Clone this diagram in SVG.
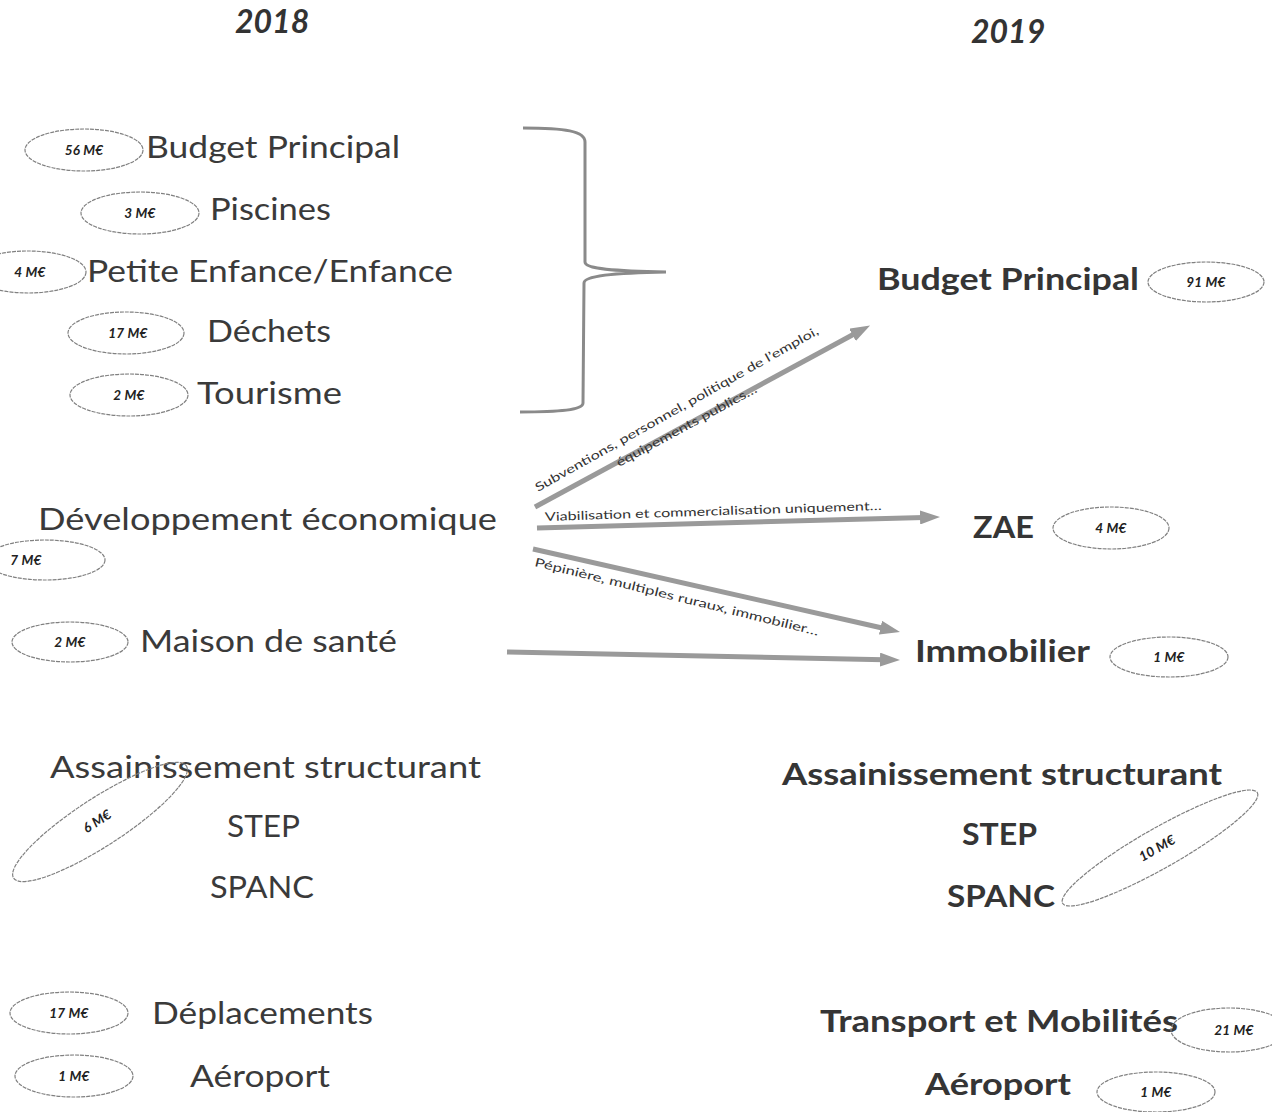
<svg xmlns="http://www.w3.org/2000/svg" width="1272" height="1112" viewBox="0 0 1272 1112">
<style>
.hdr{font-family:Lato,"Liberation Sans",sans-serif;font-weight:700;font-style:italic;font-size:32px;fill:#333}
.l{font-family:Lato,"Liberation Sans",sans-serif;font-size:30px;fill:#3a3a3a}
.r{font-family:Lato,"Liberation Sans",sans-serif;font-weight:700;font-size:30px;fill:#353535}
.v{font-family:Lato,"Liberation Sans",sans-serif;font-weight:700;font-style:italic;font-size:13.5px;fill:#222;text-anchor:middle;letter-spacing:0.2px}
.ov{fill:none;stroke:#808080;stroke-width:1.2;stroke-dasharray:4 1}
.ar{fill:none;stroke:#9a9a9a;stroke-width:5}
.al{font-family:Lato,"Liberation Sans",sans-serif;font-size:12px;fill:#333}
.br{fill:none;stroke:#8a8a8a;stroke-width:3}
</style>
<defs>
<marker id="ah" viewBox="0 0 20 14" refX="4" refY="7" markerWidth="20" markerHeight="14" orient="auto" markerUnits="userSpaceOnUse"><path d="M0,0 L20,7 L0,14 Z" fill="#9a9a9a"/></marker>
</defs>
<rect width="1272" height="1112" fill="#fff"/>
<g id="headers">
<text class="hdr" x="235" y="33">2018</text>
<text class="hdr" x="971" y="43">2019</text>
</g>
<g id="n-bp18"><ellipse class="ov" cx="84" cy="150" rx="59" ry="21"/><text class="v" x="84" y="155">56 M€</text><text class="l" x="146" y="158" textLength="254" lengthAdjust="spacingAndGlyphs">Budget Principal</text></g>
<g id="n-pisc"><ellipse class="ov" cx="140" cy="213" rx="59" ry="21"/><text class="v" x="140" y="218">3 M€</text><text class="l" x="210" y="220" textLength="121" lengthAdjust="spacingAndGlyphs">Piscines</text></g>
<g id="n-enf"><ellipse class="ov" cx="28" cy="272" rx="58" ry="21"/><text class="v" x="30" y="277">4 M€</text><text class="l" x="87" y="282" textLength="366" lengthAdjust="spacingAndGlyphs">Petite Enfance/Enfance</text></g>
<g id="n-dech"><ellipse class="ov" cx="126" cy="333" rx="58" ry="21"/><text class="v" x="128" y="338">17 M€</text><text class="l" x="207" y="342" textLength="124" lengthAdjust="spacingAndGlyphs">Déchets</text></g>
<g id="n-tour"><ellipse class="ov" cx="129" cy="395" rx="59" ry="21"/><text class="v" x="129" y="400">2 M€</text><text class="l" x="197" y="404" textLength="145" lengthAdjust="spacingAndGlyphs">Tourisme</text></g>
<g id="brace"><path class="br" d="M523,128 C565,128 585,131 585,142 L585,262 C585,269 612,271 666,272 C612,273 584,276 584,283 L583,403 C583,410 560,412 520,412"/></g>
<g id="n-dev"><text class="l" x="38" y="530" textLength="459" lengthAdjust="spacingAndGlyphs" style="font-size:31px">Développement économique</text><ellipse class="ov" cx="45" cy="560" rx="60" ry="20"/><text class="v" x="26" y="565">7 M€</text></g>
<g id="n-mais"><ellipse class="ov" cx="70" cy="642" rx="58" ry="20"/><text class="v" x="70" y="647">2 M€</text><text class="l" x="140" y="652" textLength="257" lengthAdjust="spacingAndGlyphs">Maison de santé</text></g>
<g id="n-ass18"><text class="l" x="50" y="778" textLength="431" lengthAdjust="spacingAndGlyphs">Assainissement structurant</text><text class="l" x="227" y="837" textLength="73" lengthAdjust="spacingAndGlyphs">STEP</text><text class="l" x="210" y="898" textLength="104" lengthAdjust="spacingAndGlyphs">SPANC</text><ellipse class="ov" cx="100" cy="822" rx="103" ry="24" transform="rotate(-33 100 822)"/><text class="v" x="97" y="826" transform="rotate(-33 97 821)">6 M€</text></g>
<g id="n-depl"><ellipse class="ov" cx="69" cy="1013" rx="59" ry="21"/><text class="v" x="69" y="1018">17 M€</text><text class="l" x="152" y="1024" textLength="221" lengthAdjust="spacingAndGlyphs">Déplacements</text></g>
<g id="n-aer18"><ellipse class="ov" cx="74" cy="1076" rx="59" ry="21"/><text class="v" x="74" y="1081">1 M€</text><text class="l" x="190" y="1087" textLength="140" lengthAdjust="spacingAndGlyphs">Aéroport</text></g>
<g id="n-bp19"><text class="r" x="877" y="290" textLength="262" lengthAdjust="spacingAndGlyphs">Budget Principal</text><ellipse class="ov" cx="1206" cy="282" rx="58" ry="20"/><text class="v" x="1206" y="287">91 M€</text></g>
<g id="n-zae"><text class="r" x="973" y="538" textLength="61" lengthAdjust="spacingAndGlyphs">ZAE</text><ellipse class="ov" cx="1111" cy="528" rx="58" ry="21"/><text class="v" x="1111" y="533">4 M€</text></g>
<g id="n-immo"><text class="r" x="915" y="662" textLength="175" lengthAdjust="spacingAndGlyphs">Immobilier</text><ellipse class="ov" cx="1169" cy="657" rx="59" ry="20"/><text class="v" x="1169" y="662">1 M€</text></g>
<g id="n-ass19"><text class="r" x="782" y="785" textLength="440" lengthAdjust="spacingAndGlyphs">Assainissement structurant</text><text class="r" x="962" y="845" textLength="75" lengthAdjust="spacingAndGlyphs">STEP</text><text class="r" x="947" y="907" textLength="108" lengthAdjust="spacingAndGlyphs">SPANC</text><ellipse class="ov" cx="1160" cy="848" rx="112" ry="20" transform="rotate(-29.6 1160 848)"/><text class="v" x="1157" y="853" transform="rotate(-29.6 1157 848)">10 M€</text></g>
<g id="n-trans"><text class="r" x="820" y="1032" textLength="358" lengthAdjust="spacingAndGlyphs">Transport et Mobilités</text><ellipse class="ov" cx="1229" cy="1030" rx="58" ry="22"/><text class="v" x="1234" y="1035">21 M€</text></g>
<g id="n-aer19"><text class="r" x="925" y="1095" textLength="146" lengthAdjust="spacingAndGlyphs">Aéroport</text><ellipse class="ov" cx="1156" cy="1092" rx="59" ry="20"/><text class="v" x="1156" y="1097">1 M€</text></g>
<g id="connectors">
<line class="ar" x1="535" y1="507" x2="856" y2="333" marker-end="url(#ah)"/>
<line class="ar" x1="537" y1="528" x2="924" y2="517.4" marker-end="url(#ah)"/>
<line class="ar" x1="533" y1="549" x2="884.4" y2="628.5" marker-end="url(#ah)"/>
<line class="ar" x1="507" y1="652" x2="884" y2="659.7" marker-end="url(#ah)"/>
<text class="al" x="0" y="0" transform="translate(538 492) rotate(-29.4)" textLength="323" lengthAdjust="spacingAndGlyphs">Subventions, personnel, politique de l’emploi,</text>
<text class="al" x="0" y="0" transform="translate(619 467) rotate(-28.5)" textLength="158" lengthAdjust="spacingAndGlyphs">équipements publics…</text>
<text class="al" x="0" y="0" transform="translate(545 521) rotate(-1.9)" textLength="337" lengthAdjust="spacingAndGlyphs">Viabilisation et commercialisation uniquement…</text>
<text class="al" x="0" y="0" transform="translate(534 566) rotate(13.8)" textLength="292" lengthAdjust="spacingAndGlyphs">Pépinière, multiples ruraux, immobilier…</text>
</g>
</svg>
